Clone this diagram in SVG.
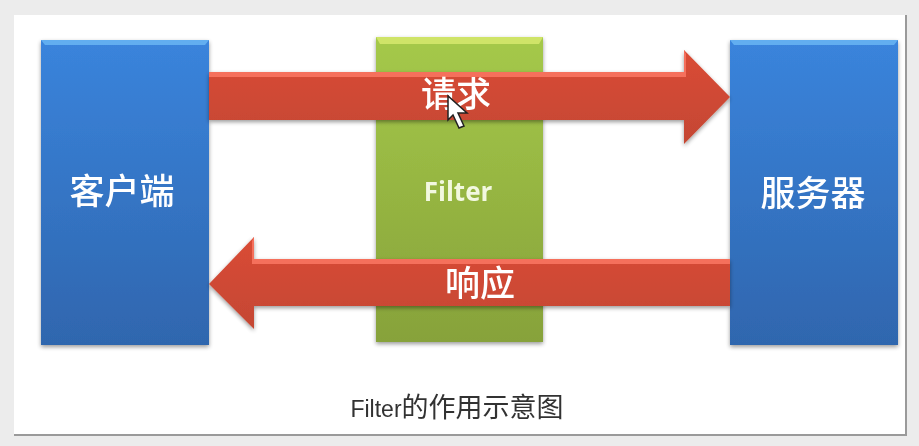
<svg xmlns="http://www.w3.org/2000/svg" width="919" height="446" viewBox="0 0 919 446">
<style>
.w{font-family:"Noto Sans CJK SC","Liberation Sans",sans-serif;fill:#fff;text-anchor:middle;font-weight:500}
.b{font-size:35px}
</style>
<defs>
<linearGradient id="bl" x1="0" y1="0" x2="0" y2="1"><stop offset="0" stop-color="#3a84dc"/><stop offset="1" stop-color="#2f66ae"/></linearGradient>
<linearGradient id="gr" x1="0" y1="0" x2="0" y2="1"><stop offset="0" stop-color="#a5c94a"/><stop offset="1" stop-color="#87a23a"/></linearGradient>
<linearGradient id="rd" x1="0" y1="0" x2="0" y2="1"><stop offset="0" stop-color="#da4c36"/><stop offset="1" stop-color="#c44633"/></linearGradient>
<filter id="sh" x="-10%" y="-10%" width="120%" height="120%"><feGaussianBlur in="SourceAlpha" stdDeviation="2"/><feOffset dy="2"/><feComponentTransfer><feFuncA type="linear" slope=".4"/></feComponentTransfer><feMerge><feMergeNode/><feMergeNode in="SourceGraphic"/></feMerge></filter>
<filter id="soft"><feGaussianBlur stdDeviation="0.4"/></filter>
</defs>
<rect width="919" height="446" fill="#ececec"/>
<g id="frame"><rect x="14" y="15" width="892" height="420" fill="#fff"/><path d="M906 15V435H14" fill="none" stroke="#9a9a9a" stroke-width="2"/></g>
<g id="client" filter="url(#sh)"><rect x="41" y="40" width="168" height="305" fill="url(#bl)"/><path d="M41 40H209L205 45H45Z" fill="#62aef0"/><text class="w b" x="122" y="204" filter="url(#soft)">客户端</text></g>
<g id="filter" filter="url(#sh)"><rect x="376" y="37" width="167" height="305" fill="url(#gr)"/><path d="M376 37H543L539 44H380Z" fill="#cfe468"/><text x="458" y="201" text-anchor="middle" font-family="'Open Sans','Liberation Sans',sans-serif" font-weight="700" font-size="26" fill="#f2f8e0" filter="url(#soft)">Filter</text></g>
<g id="server" filter="url(#sh)"><rect x="730" y="40" width="168" height="305" fill="url(#bl)"/><path d="M730 40H898L894 45H734Z" fill="#62aef0"/><text class="w b" x="813" y="206" filter="url(#soft)">服务器</text></g>
<g id="connectors">
<g id="request" filter="url(#sh)"><path d="M209 72H684V50L730 97L684 144V120H209Z" fill="url(#rd)"/><path d="M209 72H684V50L686 54V77H209Z" fill="#f5705c"/><text class="w b" x="456" y="107" filter="url(#soft)">请求</text></g>
<g id="response" filter="url(#sh)"><path d="M730 259H254V237L209 284L254 329V306H730Z" fill="url(#rd)"/><path d="M730 259H254V237L252 241V264H730Z" fill="#f5705c"/><text class="w b" x="480" y="296" filter="url(#soft)">响应</text></g>
</g>
<path id="cursor" d="M448 96V120L453 115L459 128L464 126L458 113H467Z" fill="#fff" stroke="#222" stroke-width="1.5"/>
<text id="caption" x="457" y="417" text-anchor="middle" font-family="'Liberation Sans','Noto Sans CJK SC',sans-serif" font-size="27" fill="#333" filter="url(#soft)"><tspan font-size="23">Filter</tspan>的作用示意图</text>
</svg>
